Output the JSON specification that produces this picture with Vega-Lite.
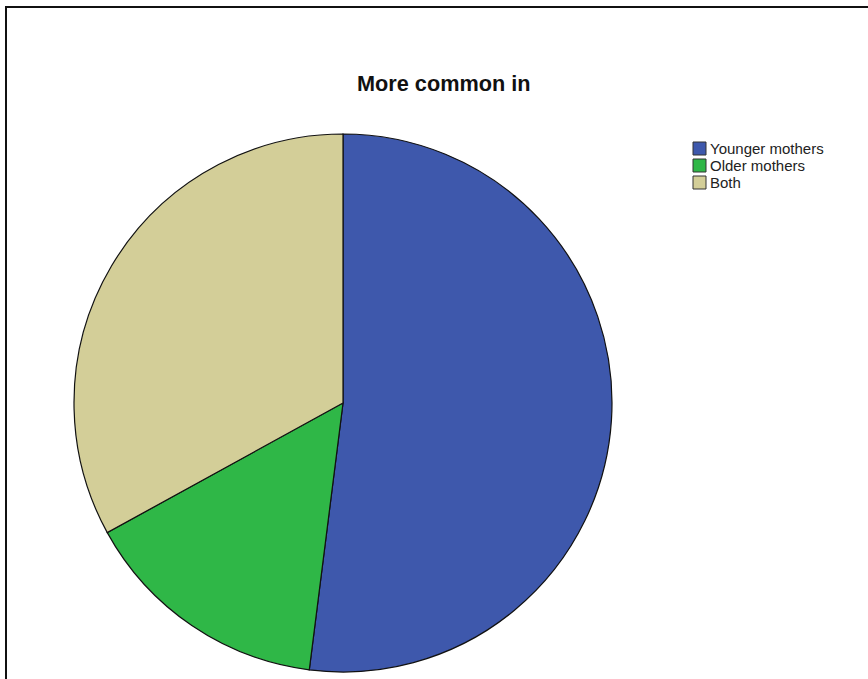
{
  "$schema": "https://vega.github.io/schema/vega-lite/v6.json",
  "autosize": "none",
  "padding": {"left": 6, "top": 7, "right": 0, "bottom": 0},
  "width": 900,
  "height": 700,
  "background": "white",
  "title": {
    "text": "More common in",
    "frame": "group",
    "anchor": "start",
    "offset": -89,
    "dx": 351,
    "font": "Liberation Sans",
    "fontSize": 21.7,
    "fontWeight": "bold",
    "color": "#111111"
  },
  "data": {
    "values": [
      {"group": "Younger mothers", "percent": 52, "rank": 1},
      {"group": "Older mothers", "percent": 15, "rank": 2},
      {"group": "Both", "percent": 33, "rank": 3}
    ]
  },
  "mark": {"type": "arc", "outerRadius": 269, "stroke": "#111111", "strokeWidth": 1.2},
  "encoding": {
    "theta": {"field": "percent", "type": "quantitative", "stack": true},
    "order": {"field": "rank", "type": "quantitative"},
    "x": {"datum": 337, "type": "quantitative", "scale": {"domain": [0, 900], "nice": false, "zero": false}, "axis": null},
    "y": {"datum": 396, "type": "quantitative", "scale": {"domain": [700, 0], "nice": false, "zero": false}, "axis": null},
    "color": {
      "field": "group",
      "type": "nominal",
      "scale": {
        "domain": ["Younger mothers", "Older mothers", "Both"],
        "range": ["#3E58AC", "#2FB747", "#D3CE98"]
      },
      "legend": {
        "title": null,
        "orient": "none",
        "legendX": 686,
        "legendY": 134,
        "symbolType": "square",
        "symbolSize": 169,
        "symbolStrokeColor": "#333333",
        "symbolStrokeWidth": 1,
        "symbolOpacity": 1,
        "labelFont": "Liberation Sans",
        "labelFontSize": 15,
        "labelColor": "#222222",
        "labelOffset": 3,
        "rowPadding": 0
      }
    }
  },
  "config": {
    "view": {"stroke": "#111111", "strokeWidth": 2}
  }
}
